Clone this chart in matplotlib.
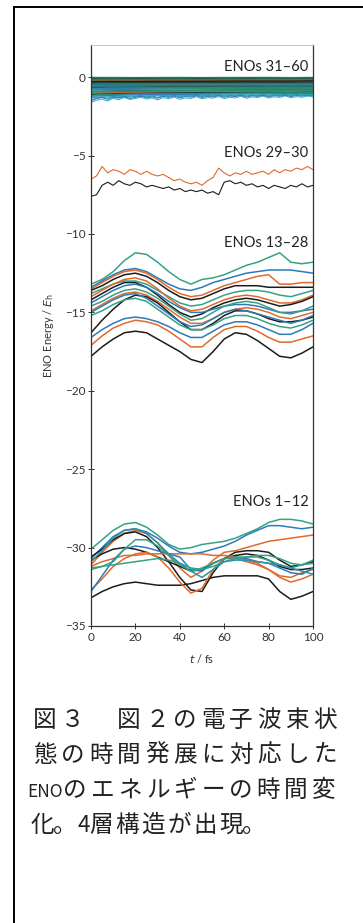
import matplotlib.pyplot as plt
import numpy as np
from matplotlib.lines import Line2D

# time grids (fs)
t_smooth = np.arange(0, 101, 5)
t_band = np.arange(0, 101, 10)
t_noisy = np.arange(0, 100.1, 2.5)

green = '#35a285'
blue = '#2d7ab8'
orange = '#e06a2c'
black = '#1c1c1c'
teal = '#237a80'
dgreen = '#2b8c70'
cyan = '#38a9cc'

# ENOs 31-60 (dense band near 0)
eno31_60 = [
    [-0.02, -0.02, -0.03, -0.02, -0.02, -0.03, -0.02, -0.02, -0.02, -0.03, -0.02],
    [-0.06, -0.05, -0.06, -0.06, -0.05, -0.06, -0.05, -0.06, -0.05, -0.05, -0.06],
    [-0.09, -0.10, -0.09, -0.10, -0.09, -0.09, -0.10, -0.09, -0.09, -0.10, -0.09],
    [-0.13, -0.12, -0.13, -0.13, -0.12, -0.13, -0.12, -0.13, -0.12, -0.12, -0.13],
    [-0.17, -0.16, -0.17, -0.16, -0.16, -0.17, -0.16, -0.16, -0.17, -0.16, -0.16],
    [-0.21, -0.20, -0.21, -0.20, -0.20, -0.21, -0.20, -0.20, -0.20, -0.21, -0.20],
    [-0.26, -0.25, -0.25, -0.24, -0.24, -0.25, -0.24, -0.24, -0.23, -0.24, -0.23],
    [-0.30, -0.29, -0.29, -0.28, -0.29, -0.28, -0.28, -0.28, -0.27, -0.28, -0.27],
    [-0.35, -0.34, -0.33, -0.33, -0.33, -0.32, -0.32, -0.32, -0.31, -0.31, -0.31],
    [-0.39, -0.38, -0.37, -0.37, -0.36, -0.36, -0.36, -0.35, -0.35, -0.35, -0.35],
    [-0.43, -0.42, -0.41, -0.41, -0.40, -0.40, -0.40, -0.39, -0.39, -0.39, -0.38],
    [-0.52, -0.50, -0.49, -0.48, -0.48, -0.47, -0.47, -0.46, -0.46, -0.46, -0.45],
    [-0.56, -0.54, -0.53, -0.52, -0.52, -0.51, -0.51, -0.50, -0.50, -0.50, -0.49],
    [-0.66, -0.63, -0.62, -0.61, -0.60, -0.60, -0.59, -0.59, -0.58, -0.58, -0.58],
    [-0.70, -0.68, -0.66, -0.65, -0.64, -0.64, -0.63, -0.63, -0.62, -0.62, -0.62],
    [-0.76, -0.73, -0.71, -0.70, -0.70, -0.69, -0.68, -0.68, -0.67, -0.67, -0.67],
    [-0.82, -0.79, -0.77, -0.76, -0.75, -0.74, -0.74, -0.73, -0.73, -0.72, -0.72],
    [-1.02, -0.98, -0.95, -0.93, -0.92, -0.91, -0.90, -0.89, -0.88, -0.87, -0.86],
    [-1.10, -1.06, -1.03, -1.01, -1.00, -0.99, -0.98, -0.97, -0.96, -0.96, -0.95],
    [-0.90, -0.87, -0.85, -0.84, -0.83, -0.82, -0.81, -0.80, -0.80, -0.79, -0.79],
    [-1.15, -1.10, -1.07, -1.05, -1.04, -1.03, -1.02, -1.01, -1.00, -0.99, -0.99],
    [-1.22, -1.16, -1.13, -1.11, -1.10, -1.09, -1.08, -1.07, -1.06, -1.05, -1.05],
    [-1.30, -1.24, -1.20, -1.18, -1.17, -1.16, -1.15, -1.14, -1.13, -1.12, -1.12],
    [-0.48, -0.46, -0.45, -0.44, -0.44, -0.43, -0.43, -0.43, -0.42, -0.42, -0.42],
    [-0.96, -0.92, -0.90, -0.88, -0.87, -0.86, -0.85, -0.84, -0.84, -0.83, -0.83],
    [-0.28, -0.27, -0.27, -0.26, -0.26, -0.26, -0.25, -0.25, -0.25, -0.25, -0.24],
    [-0.60, -0.58, -0.57, -0.56, -0.55, -0.55, -0.54, -0.54, -0.54, -0.53, -0.53],
]
eno31_60_colors = [dgreen, teal, black, dgreen, teal, dgreen, orange, teal, dgreen,
                   black, teal, orange, dgreen, black, teal, blue, dgreen, orange,
                   black, teal, dgreen, blue, cyan, teal, dgreen, black, teal]

# noisy lower edge of the top band
eno31_60_noisy = [
    [-1.62, -1.48, -1.40, -1.52, -1.35, -1.44, -1.30, -1.42, -1.36, -1.28, -1.40, -1.33, -1.45, -1.30,
     -1.38, -1.27, -1.41, -1.32, -1.36, -1.25, -1.38, -1.30, -1.34, -1.24, -1.36, -1.28, -1.33, -1.22,
     -1.35, -1.26, -1.30, -1.21, -1.33, -1.25, -1.29, -1.20, -1.31, -1.24, -1.28, -1.21, -1.27],
    [-1.45, -1.32, -1.26, -1.35, -1.22, -1.30, -1.20, -1.28, -1.23, -1.17, -1.26, -1.20, -1.29, -1.18,
     -1.24, -1.15, -1.25, -1.19, -1.22, -1.14, -1.24, -1.17, -1.21, -1.13, -1.22, -1.16, -1.19, -1.12,
     -1.21, -1.14, -1.18, -1.11, -1.20, -1.13, -1.17, -1.10, -1.18, -1.12, -1.16, -1.10, -1.15],
    [-1.50, -1.38, -1.30, -1.42, -1.28, -1.34, -1.25, -1.36, -1.29, -1.22, -1.31, -1.26, -1.35, -1.23,
     -1.29, -1.21, -1.32, -1.24, -1.27, -1.19, -1.30, -1.22, -1.26, -1.18, -1.28, -1.21, -1.24, -1.17,
     -1.27, -1.19, -1.23, -1.16, -1.25, -1.18, -1.22, -1.15, -1.24, -1.17, -1.21, -1.15, -1.20],
]
eno31_60_noisy_colors = [cyan, '#2a9aa8', blue]

# ENOs 29-30
eno30 = [-6.5, -6.3, -5.7, -6.1, -5.9, -6.0, -6.2, -5.9, -6.0, -6.2, -6.0, -6.2, -6.3, -6.2,
         -6.4, -6.6, -6.5, -6.7, -6.8, -6.7, -6.9, -6.6, -6.4, -5.8, -6.1, -6.3, -6.1, -6.2,
         -6.0, -6.2, -6.1, -6.0, -6.2, -5.9, -6.1, -5.9, -6.0, -5.8, -5.9, -5.7, -5.9]
eno29 = [-7.6, -7.5, -6.9, -6.7, -6.9, -6.6, -6.8, -6.9, -6.7, -6.8, -7.0, -6.9, -7.0, -7.1,
         -7.0, -7.2, -7.1, -7.3, -7.2, -7.3, -7.2, -7.4, -7.3, -7.5, -6.7, -6.6, -6.8, -6.7,
         -6.9, -6.8, -7.0, -6.9, -7.1, -6.9, -7.0, -7.1, -6.9, -7.0, -6.8, -7.0, -6.9]

# ENOs 13-28
eno13_28 = [
    [-13.2, -12.9, -12.4, -11.7, -11.2, -11.3, -11.8, -12.4, -12.9, -13.2, -12.9, -12.8, -12.6, -12.3, -12.0, -11.8, -11.5, -11.2, -11.8, -11.9, -11.8],
    [-13.4, -13.0, -12.6, -12.3, -12.2, -12.4, -12.8, -13.2, -13.5, -13.6, -13.4, -13.1, -12.9, -12.7, -12.5, -12.4, -12.3, -12.3, -12.3, -12.4, -12.5],
    [-13.5, -13.1, -12.7, -12.4, -12.3, -12.5, -12.9, -13.4, -13.8, -14.0, -13.9, -13.6, -13.3, -13.1, -12.9, -12.7, -12.6, -13.2, -13.2, -13.1, -13.1],
    [-13.6, -13.3, -12.9, -12.6, -12.5, -12.7, -13.1, -13.6, -14.0, -14.2, -14.1, -13.8, -13.5, -13.3, -13.3, -13.3, -13.4, -13.4, -13.4, -13.4, -13.4],
    [-13.8, -13.5, -13.2, -13.0, -13.0, -13.2, -13.6, -14.0, -14.4, -14.6, -14.5, -14.2, -13.9, -13.7, -13.6, -13.6, -13.7, -13.9, -14.0, -13.8, -13.6],
    [-14.0, -13.6, -13.2, -12.9, -12.8, -13.0, -13.5, -14.1, -14.6, -14.9, -14.8, -14.5, -14.2, -14.0, -13.9, -14.0, -14.2, -14.4, -14.4, -14.2, -13.9],
    [-14.2, -13.8, -13.4, -13.1, -13.1, -13.4, -13.9, -14.5, -15.0, -15.3, -15.1, -14.7, -14.4, -14.2, -14.1, -14.2, -14.4, -14.6, -14.5, -14.3, -14.0],
    [-14.4, -14.0, -13.6, -13.3, -13.2, -13.4, -13.8, -14.3, -14.7, -15.0, -15.0, -14.8, -14.6, -14.5, -14.5, -14.6, -14.8, -15.0, -15.0, -14.9, -14.8],
    [-14.6, -14.3, -13.9, -13.6, -13.5, -13.7, -14.1, -14.6, -15.1, -15.5, -15.4, -15.0, -14.6, -14.4, -14.3, -14.4, -14.7, -15.0, -15.1, -14.9, -14.6],
    [-14.9, -14.5, -14.1, -13.8, -13.7, -13.9, -14.3, -14.8, -15.3, -15.7, -15.7, -15.4, -15.0, -14.8, -14.7, -14.8, -15.0, -15.3, -15.4, -15.2, -15.0],
    [-16.3, -15.5, -14.8, -14.2, -13.9, -14.0, -14.4, -15.0, -15.6, -16.1, -16.1, -15.7, -15.2, -14.9, -14.9, -15.1, -15.4, -15.6, -15.6, -15.5, -15.3],
    [-15.2, -14.9, -14.5, -14.2, -14.1, -14.3, -14.8, -15.3, -15.8, -16.1, -16.1, -15.8, -15.4, -15.2, -15.2, -15.4, -15.7, -15.9, -16.0, -15.8, -15.5],
    [-16.6, -16.1, -15.7, -15.4, -15.3, -15.4, -15.6, -15.9, -16.3, -16.6, -16.6, -16.2, -15.8, -15.6, -15.6, -15.8, -16.1, -16.4, -16.4, -16.1, -15.7],
    [-17.1, -16.5, -16.0, -15.7, -15.5, -15.6, -15.8, -16.2, -16.7, -17.2, -17.2, -16.6, -16.1, -15.9, -15.9, -16.2, -16.6, -16.9, -16.9, -16.7, -16.5],
    [-17.8, -17.2, -16.7, -16.3, -16.2, -16.3, -16.7, -17.1, -17.5, -18.0, -18.2, -17.5, -16.7, -16.3, -16.4, -16.8, -17.3, -17.8, -17.9, -17.6, -17.2],
    [-15.0, -14.6, -14.2, -13.9, -13.8, -14.1, -14.6, -15.1, -15.6, -15.9, -15.8, -15.4, -15.0, -14.8, -14.9, -15.1, -15.3, -15.5, -15.7, -15.5, -15.2],
]
eno13_28_colors = [green, blue, orange, black, green, orange, black, blue,
                   green, orange, black, green, blue, orange, black, blue]

# ENOs 1-12
eno1_12 = [
    [-30.1, -29.5, -28.9, -28.5, -28.4, -28.7, -29.2, -29.8, -30.1, -30.0, -29.8, -29.7, -29.6, -29.4, -29.1, -28.8, -28.4, -28.2, -28.2, -28.3, -28.5],
    [-30.7, -30.0, -29.3, -28.9, -28.8, -29.0, -29.4, -29.9, -30.3, -30.4, -30.3, -30.1, -29.9, -29.6, -29.2, -28.9, -28.6, -28.6, -28.7, -28.8, -28.7],
    [-31.1, -30.3, -29.6, -29.1, -28.9, -29.1, -29.7, -30.5, -31.3, -31.9, -31.5, -30.8, -30.3, -30.2, -30.0, -29.8, -29.6, -29.5, -29.4, -29.3, -29.2],
    [-30.6, -30.1, -29.5, -29.1, -29.0, -29.3, -30.0, -30.9, -31.9, -32.7, -32.8, -31.6, -30.7, -30.3, -30.2, -30.2, -30.3, -30.8, -31.2, -31.1, -30.9],
    [-33.2, -32.8, -32.5, -32.3, -32.2, -32.3, -32.4, -32.4, -32.4, -32.3, -32.1, -31.9, -31.8, -31.8, -31.8, -31.8, -32.0, -32.8, -33.3, -33.1, -32.8],
    [-30.8, -30.4, -30.1, -30.0, -30.1, -30.3, -30.6, -30.9, -31.2, -31.5, -31.4, -31.0, -30.7, -30.5, -30.4, -30.5, -30.8, -31.2, -31.4, -31.4, -31.3],
    [-31.2, -30.9, -30.7, -30.5, -30.5, -30.4, -30.4, -30.4, -30.4, -30.4, -30.4, -30.5, -30.5, -30.6, -30.8, -31.0, -31.4, -31.8, -31.9, -31.6, -31.4],
    [-32.7, -32.0, -31.2, -30.7, -30.4, -30.3, -30.6, -31.3, -32.2, -32.9, -32.6, -31.4, -30.7, -30.7, -30.9, -31.1, -31.4, -31.9, -32.2, -32.0, -31.7],
    [-32.8, -31.8, -30.8, -30.1, -29.9, -30.0, -30.2, -30.4, -30.6, -31.4, -31.5, -31.0, -30.7, -30.6, -30.7, -30.9, -31.0, -31.3, -31.6, -31.7, -31.3],
    [-31.4, -31.2, -30.9, -30.1, -29.5, -29.5, -29.9, -30.5, -31.1, -31.5, -31.3, -31.0, -30.7, -30.6, -30.6, -30.6, -30.8, -31.1, -31.3, -31.1, -30.8],
    [-31.3, -31.2, -31.1, -31.0, -30.9, -30.8, -30.7, -30.8, -31.0, -31.3, -31.4, -31.2, -30.9, -30.7, -30.6, -30.5, -30.5, -30.7, -31.0, -31.1, -31.0],
    [-30.9, -30.2, -29.4, -28.9, -28.8, -29.1, -29.7, -30.4, -31.0, -31.5, -31.9, -31.4, -30.9, -30.8, -30.8, -30.9, -31.0, -31.1, -31.3, -31.5, -31.7],
]
eno1_12_colors = [green, blue, orange, black, black, black, orange, orange,
                  blue, green, green, '#2a93ab']

group_labels = ['ENOs 31\u201360', 'ENOs 29\u201330', 'ENOs 13\u201328', 'ENOs 1\u201312']
group_label_y = [0.65, -4.85, -10.6, -27.1]

caption = [
    ['図', '３', '　', '図', '２', 'の', '電', '子', '波', '束', '状'],
    ['態', 'の', '時', '間', '発', '展', 'に', '対', '応', 'し', 'た'],
    ['ENO', 'の', 'エ', 'ネ', 'ル', 'ギ', 'ー', 'の', '時', '間', '変'],
    ['化', '。', '4', '層', '構', '造', 'が', '出', '現', '。'],
]

W, H = 363, 923
fig = plt.figure(figsize=(W / 100, H / 100), dpi=100)
ax = fig.add_axes([91 / W, 1 - 626 / H, 222 / W, 581 / H])

for vals, c in zip(eno31_60, eno31_60_colors):
    ax.plot(t_band, vals, color=c, lw=1.0)
for vals, c in zip(eno31_60_noisy, eno31_60_noisy_colors):
    ax.plot(t_noisy, vals, color=c, lw=0.7)
ax.plot(t_noisy, eno30, color=orange, lw=0.8)
ax.plot(t_noisy, eno29, color=black, lw=0.8)
for vals, c in zip(eno13_28, eno13_28_colors):
    ax.plot(t_smooth, vals, color=c, lw=1.1)
for vals, c in zip(eno1_12, eno1_12_colors):
    ax.plot(t_smooth, vals, color=c, lw=1.1)

for lab, y in zip(group_labels, group_label_y):
    ax.text(98, y, lab, ha='right', va='center', fontsize=10.5, family='Lato', color='#222222')

ax.set_xlim(0, 100)
ax.set_ylim(-35, 2.05)
ax.set_xticks([0, 20, 40, 60, 80, 100])
ax.set_yticks([0, -5, -10, -15, -20, -25, -30, -35])
ax.tick_params(axis='both', direction='inout', length=4, width=0.7, labelsize=8.5,
               colors='#333333', pad=2)
for lbl in ax.get_xticklabels() + ax.get_yticklabels():
    lbl.set_family('Lato')
for side in ['left', 'bottom', 'right']:
    ax.spines[side].set_linewidth(0.9)
    ax.spines[side].set_color('#333333')
ax.spines['top'].set_linewidth(0.6)
ax.spines['top'].set_color('#bbbbbb')
ax.set_xlabel('$t$ / fs', fontsize=8, family='Lato', color='#333333', labelpad=7)
ax.set_ylabel('ENO Energy / $E_\\mathrm{h}$', fontsize=8, family='Lato', color='#333333', labelpad=6)

# outer frame (left and top edges)
fig.add_artist(Line2D([14 / W, 14 / W], [0, 1 - 7 / H], color='black', lw=1.4, transform=fig.transFigure))
fig.add_artist(Line2D([14 / W, 1], [1 - 7 / H, 1 - 7 / H], color='black', lw=1.4, transform=fig.transFigure))

# caption, one glyph at a time to keep the fixed character pitch
baselines = [727, 762, 797, 832]
line_x = [
    [45 + 28.0 * i for i in range(11)],
    [45 + 28.0 * i for i in range(11)],
    [45] + [75 + 27.6 * i for i in range(10)],
    [42, 53, 84, 101, 127.5, 153, 179.5, 205, 231, 242],
]
line_sizes = [
    [17] * 11,
    [17] * 11,
    [12.5] + [17] * 10,
    [17, 17, 16, 17, 17, 17, 17, 17, 17, 17],
]
for chars, xs, sizes, yb in zip(caption, line_x, line_sizes, baselines):
    for ch, x, fs in zip(chars, xs, sizes):
        fam = ['Liberation Sans Narrow', 'Noto Sans CJK JP'] if ch == 'ENO' else ['Noto Sans CJK JP', 'DejaVu Sans']
        fig.text(x / W, 1 - yb / H, ch, ha='left' if ch == '。' else 'center', va='baseline',
                 fontsize=fs, family=fam, color='#222222')

fig.savefig('out.png', dpi=100)
